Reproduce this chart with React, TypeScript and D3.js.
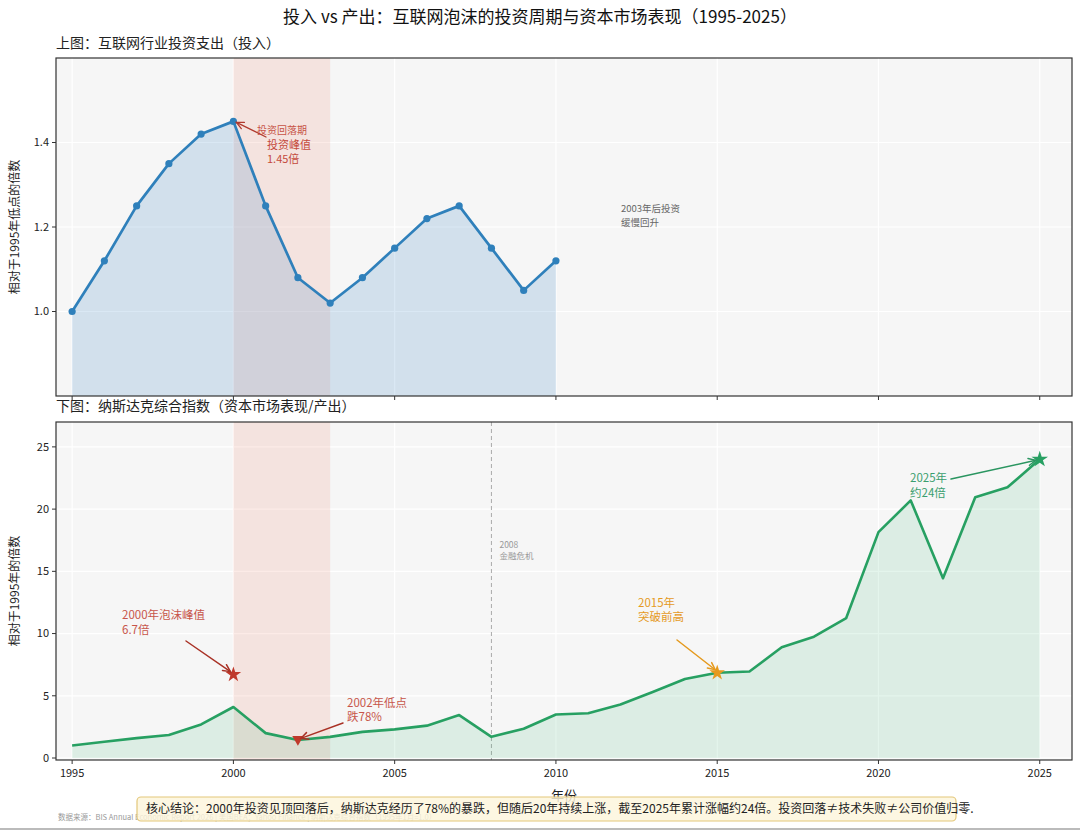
import React from "react";
import * as d3 from "d3";

// 上图：互联网行业投资支出（1995 = 1.0）
const investYears = [1995, 1996, 1997, 1998, 1999, 2000, 2001, 2002, 2003, 2004, 2005, 2006, 2007, 2008, 2009, 2010];
const investIndex = [1.0, 1.12, 1.25, 1.35, 1.42, 1.45, 1.25, 1.08, 1.02, 1.08, 1.15, 1.22, 1.25, 1.15, 1.05, 1.12];

// 下图：纳斯达克综合指数（1995年1月 = 1.0）
const nasdaqYears = [
  1995, 1996, 1997, 1998, 1999, 2000, 2001, 2002, 2003, 2004, 2005, 2006, 2007, 2008, 2009, 2010,
  2011, 2012, 2013, 2014, 2015, 2016, 2017, 2018, 2019, 2020, 2021, 2022, 2023, 2024, 2025,
];
const nasdaqIndex = [
  1.0, 1.3, 1.6, 1.85, 2.7, 4.1, 2.0, 1.45, 1.7, 2.1, 2.3, 2.6, 3.45, 1.7, 2.35, 3.5,
  3.6, 4.3, 5.3, 6.35, 6.85, 6.95, 8.9, 9.75, 11.25, 18.15, 20.7, 14.45, 20.95, 21.75, 24.0,
];

const xTicks = [1995, 2000, 2005, 2010, 2015, 2020, 2025];
const topYTicks = [1.0, 1.2, 1.4];
const bottomYTicks = [0, 5, 10, 15, 20, 25];

const FONT = '"Noto Sans CJK SC", "Noto Sans", sans-serif';
const W = 1080;
const H = 832;
const L = 56;
const R = 1072;
const TOP = { y0: 58, y1: 396 };
const BOT = { y0: 422, y1: 760 };

const BG = "#f6f6f6";
const BLUE = "#2f80bb";
const GREEN = "#27a062";
const RED = "#c0392b";
const ORANGE = "#e59a1e";

const x = d3.scaleLinear().domain([1994.5, 2026]).range([L, R]);
const yTop = d3.scaleLinear().domain([0.8, 1.6]).range([TOP.y1, TOP.y0]);
const yBot = d3.scaleLinear().domain([-0.16, 27]).range([BOT.y1, BOT.y0]);

const Arrow: React.FC<{ x1: number; y1: number; x2: number; y2: number; color: string; w?: number }> = ({
  x1, y1, x2, y2, color, w = 1.5,
}) => {
  const a = Math.atan2(y2 - y1, x2 - x1);
  const len = 8;
  const spread = 0.45;
  const p1 = [x2 - len * Math.cos(a - spread), y2 - len * Math.sin(a - spread)];
  const p2 = [x2 - len * Math.cos(a + spread), y2 - len * Math.sin(a + spread)];
  return (
    <g stroke={color} strokeWidth={w} fill="none" strokeLinecap="round">
      <line x1={x1} y1={y1} x2={x2} y2={y2} />
      <path d={`M${p1[0]},${p1[1]}L${x2},${y2}L${p2[0]},${p2[1]}`} />
    </g>
  );
};

const Panel: React.FC<{
  y: d3.ScaleLinear<number, number>;
  range: { y0: number; y1: number };
  yTicks: number[];
  fmt: (v: number) => string;
  showXLabels: boolean;
  children?: React.ReactNode;
}> = ({ y, range, yTicks, fmt, showXLabels, children }) => (
  <g>
    <rect x={L} y={range.y0} width={R - L} height={range.y1 - range.y0} fill={BG} />
    {xTicks.map((t) => (
      <line key={"gx" + t} x1={x(t)} x2={x(t)} y1={range.y0} y2={range.y1} stroke="#fff" strokeWidth={1.2} />
    ))}
    {yTicks.map((t) => (
      <line key={"gy" + t} x1={L} x2={R} y1={y(t)} y2={y(t)} stroke="#fff" strokeWidth={1.2} />
    ))}
    {/* 投资回落期 */}
    <rect
      x={x(2000)}
      y={range.y0}
      width={x(2003) - x(2000)}
      height={range.y1 - range.y0}
      fill="#ea7a5c"
      opacity={0.15}
    />
    {children}
    <rect x={L} y={range.y0} width={R - L} height={range.y1 - range.y0} fill="none" stroke="#333" strokeWidth={1.2} />
    {yTicks.map((t) => (
      <g key={"ty" + t}>
        <line x1={L - 4} x2={L} y1={y(t)} y2={y(t)} stroke="#333" />
        <text x={L - 7} y={y(t)} dy="0.35em" textAnchor="end" fontSize={11} fill="#222">
          {fmt(t)}
        </text>
      </g>
    ))}
    {xTicks.map((t) => (
      <g key={"tx" + t}>
        <line x1={x(t)} x2={x(t)} y1={range.y1} y2={range.y1 + 4} stroke="#333" />
        {showXLabels && (
          <text x={x(t)} y={range.y1 + 17} textAnchor="middle" fontSize={11} fill="#222">
            {t}
          </text>
        )}
      </g>
    ))}
  </g>
);

export default function App() {
  const topPts = investYears.map((yr, i) => [yr, investIndex[i]] as [number, number]);
  const botPts = nasdaqYears.map((yr, i) => [yr, nasdaqIndex[i]] as [number, number]);

  const topLine = d3.line<[number, number]>().x((d) => x(d[0])).y((d) => yTop(d[1]));
  const topArea = d3
    .area<[number, number]>()
    .x((d) => x(d[0]))
    .y0(TOP.y1)
    .y1((d) => yTop(d[1]));
  const botLine = d3.line<[number, number]>().x((d) => x(d[0])).y((d) => yBot(d[1]));
  const botArea = d3
    .area<[number, number]>()
    .x((d) => x(d[0]))
    .y0(yBot(0))
    .y1((d) => yBot(d[1]));

  const star = d3.symbol().type(d3.symbolStar);
  const tri = d3.symbol().type(d3.symbolTriangle).size(55)();

  const peak2000 = { x: x(2000), y: yBot(6.7) };
  const low2002 = { x: x(2002), y: yBot(1.5) };
  const hi2015 = { x: x(2015), y: yBot(6.85) };
  const end2025 = { x: x(2025), y: yBot(24) };

  return (
    <div style={{ position: "absolute", left: 0, top: 0 }}>
      <svg width={W} height={H} fontFamily={FONT} style={{ display: "block", background: "#fff" }}>
        <text x={W / 2} y={23} textAnchor="middle" fontSize={17} fill="#111">
          投入 vs 产出：互联网泡沫的投资周期与资本市场表现（1995-2025）
        </text>

        {/* 上图 */}
        <text x={L} y={48} fontSize={14} fill="#222">
          上图：互联网行业投资支出（投入）
        </text>
        <Panel y={yTop} range={TOP} yTicks={topYTicks} fmt={(v) => v.toFixed(1)} showXLabels={false}>
          <path d={topArea(topPts) || ""} fill="#3a87c5" opacity={0.19} />
          <path d={topLine(topPts) || ""} fill="none" stroke={BLUE} strokeWidth={2.7} strokeLinejoin="round" />
          {topPts.map((d) => (
            <circle key={d[0]} cx={x(d[0])} cy={yTop(d[1])} r={3.6} fill={BLUE} />
          ))}
          <Arrow x1={266} y1={137} x2={x(2000) + 3} y2={yTop(1.45) + 1} color="#b03a2e" w={1.3} />
          <text x={257} y={134} fontSize={10} fill={RED} opacity={0.85}>
            投资回落期
          </text>
          <text x={267} y={149} fontSize={11} fill={RED} opacity={0.9}>
            投资峰值
          </text>
          <text x={267} y={163} fontSize={11} fill={RED} opacity={0.9}>
            1.45倍
          </text>
          <text x={621} y={212} fontSize={9.5} fill="#666">
            2003年后投资
          </text>
          <text x={621} y={226} fontSize={9.5} fill="#666">
            缓慢回升
          </text>
        </Panel>
        <text
          transform={`translate(19,${(TOP.y0 + TOP.y1) / 2}) rotate(-90)`}
          textAnchor="middle"
          fontSize={12}
          fill="#222"
        >
          相对于1995年低点的倍数
        </text>

        {/* 下图 */}
        <text x={L} y={411} fontSize={14} fill="#222">
          下图：纳斯达克综合指数（资本市场表现/产出）
        </text>
        <Panel y={yBot} range={BOT} yTicks={bottomYTicks} fmt={(v) => String(v)} showXLabels={true}>
          <line x1={x(2008)} x2={x(2008)} y1={BOT.y0} y2={BOT.y1} stroke="#aaa" strokeWidth={1} strokeDasharray="4,3" />
          <text x={x(2008) + 8} y={548} fontSize={8.5} fill="#999">
            2008
          </text>
          <text x={x(2008) + 8} y={559} fontSize={8.5} fill="#999">
            金融危机
          </text>
          <path d={botArea(botPts) || ""} fill="#2bb56a" opacity={0.13} />
          <path d={botLine(botPts) || ""} fill="none" stroke={GREEN} strokeWidth={2.6} strokeLinejoin="round" />

          <path d={star.size(75)() || ""} transform={`translate(${peak2000.x},${peak2000.y})`} fill="#c0392b" />
          <path d={tri || ""} transform={`translate(${low2002.x},${low2002.y}) rotate(180)`} fill="#c0392b" />
          <path d={star.size(75)() || ""} transform={`translate(${hi2015.x},${hi2015.y})`} fill={ORANGE} />
          <path d={star.size(85)() || ""} transform={`translate(${end2025.x},${end2025.y})`} fill={GREEN} />

          <Arrow x1={186} y1={641} x2={peak2000.x - 3} y2={peak2000.y - 3} color="#a93226" />
          <text x={122} y={619} fontSize={11.5} fill={RED} opacity={0.85}>
            2000年泡沫峰值
          </text>
          <text x={122} y={634} fontSize={11.5} fill={RED} opacity={0.85}>
            6.7倍
          </text>

          <Arrow x1={343} y1={723} x2={low2002.x + 3} y2={low2002.y - 1} color="#a93226" />
          <text x={347} y={707} fontSize={11.5} fill={RED} opacity={0.85}>
            2002年低点
          </text>
          <text x={347} y={721} fontSize={11.5} fill={RED} opacity={0.85}>
            跌78%
          </text>

          <Arrow x1={677} y1={640} x2={hi2015.x - 2} y2={hi2015.y - 3} color={ORANGE} />
          <text x={638} y={607} fontSize={11.5} fill={ORANGE}>
            2015年
          </text>
          <text x={638} y={621} fontSize={11.5} fill={ORANGE}>
            突破前高
          </text>

          <Arrow x1={951} y1={479} x2={end2025.x - 4} y2={end2025.y + 1} color="#2a9560" />
          <text x={910} y={482} fontSize={11.5} fill="#3a9e6e">
            2025年
          </text>
          <text x={910} y={497} fontSize={11.5} fill="#3a9e6e">
            约24倍
          </text>
        </Panel>
        <text
          transform={`translate(19,${(BOT.y0 + BOT.y1) / 2}) rotate(-90)`}
          textAnchor="middle"
          fontSize={12}
          fill="#222"
        >
          相对于1995年的倍数
        </text>
        <text x={(L + R) / 2} y={800} textAnchor="middle" fontSize={13} fill="#222">
          年份
        </text>

        {/* 数据来源 */}
        <text x={58} y={820} fontSize={7.5} fill="#999">
          数据来源：BIS Annual Economic Report 2026 | 美国BEA；Yahoo Finance | 纳斯达克综合指数（1995年1月=1.0）
        </text>

        {/* 核心结论 */}
        <rect x={137} y={797} width={819} height={24} rx={4} fill="#fdf5dc" fillOpacity={0.82} stroke="#e3c77a" strokeWidth={1.2} />
        <text x={146} y={813} fontSize={12} fill="#222">
          核心结论：2000年投资见顶回落后，纳斯达克经历了78%的暴跌，但随后20年持续上涨，截至2025年累计涨幅约24倍。投资回落≠技术失败≠公司价值归零.
        </text>
        <line x1={0} x2={W} y1={829} y2={829} stroke="#bbb" strokeWidth={2} />
      </svg>
    </div>
  );
}
